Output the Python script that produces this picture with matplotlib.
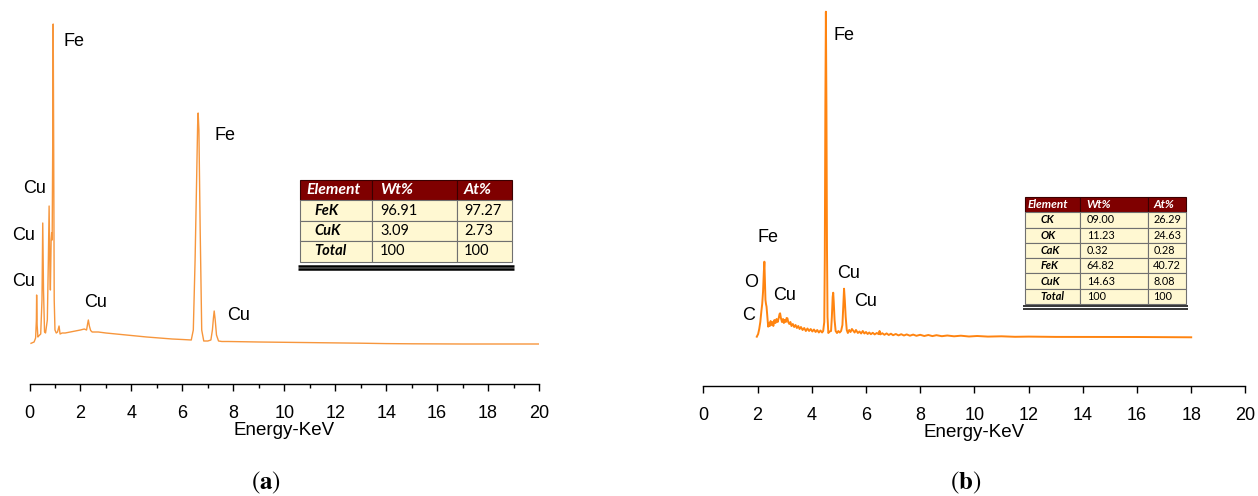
import matplotlib
matplotlib.use("Agg")
import matplotlib.pyplot as plt

W, H = 1258, 496

# ---------------- data ----------------
# panel (a): (energy keV, intensity a.u.)
spectrum_a = [
    (0.06, 7), (0.18, 20), (0.24, 60), (0.27, 240), (0.28, 490), (0.30, 190), (0.33, 70), (0.36, 80),
    (0.44, 100), (0.49, 440), (0.52, 1210), (0.55, 540), (0.59, 120), (0.63, 110), (0.70, 240),
    (0.74, 840), (0.77, 1380), (0.80, 740), (0.82, 540), (0.85, 1040), (0.87, 1110), (0.89, 1040),
    (0.91, 1940), (0.93, 3200), (0.95, 1940), (0.97, 440), (1.00, 140), (1.05, 110), (1.10, 120),
    (1.16, 180), (1.20, 100), (1.28, 110), (1.40, 110), (1.60, 120), (1.80, 130), (2.00, 140),
    (2.15, 150), (2.24, 140), (2.28, 200), (2.31, 240), (2.35, 180), (2.40, 135), (2.46, 120),
    (2.70, 120), (3.00, 110), (3.40, 100), (3.80, 90), (4.20, 80), (4.60, 70), (5.10, 60),
    (5.60, 50), (6.00, 45), (6.35, 40), (6.43, 140), (6.50, 840), (6.56, 1640), (6.60, 2190),
    (6.62, 2310), (6.65, 2140), (6.70, 1140), (6.76, 140), (6.84, 30), (7.00, 30), (7.12, 40),
    (7.18, 140), (7.22, 260), (7.25, 330), (7.29, 240), (7.34, 90), (7.42, 30), (7.55, 25),
    (7.80, 25), (8.30, 23), (9.00, 20), (10.0, 17), (11.0, 14), (12.0, 11), (13.0, 8), (14.0, 4),
    (15.0, 2), (16.0, 1), (17.0, 0), (18.0, 0), (19.0, 0), (20.1, 0),
]

# panel (b)
spectrum_b = [
    (1.97, 3), (2.02, 30), (2.06, 80), (2.10, 150), (2.14, 260), (2.17, 330), (2.20, 450),
    (2.23, 650), (2.25, 753), (2.27, 560), (2.29, 370), (2.31, 330), (2.33, 303), (2.36, 200),
    (2.39, 103), (2.42, 140), (2.45, 110), (2.48, 160), (2.51, 120), (2.55, 150), (2.58, 110),
    (2.62, 170), (2.66, 140), (2.70, 180), (2.74, 150), (2.78, 190), (2.81, 230), (2.83, 237),
    (2.86, 190), (2.90, 150), (2.94, 180), (2.97, 140), (3.00, 170), (3.04, 150), (3.07, 190),
    (3.10, 187), (3.13, 150), (3.17, 130), (3.21, 150), (3.25, 110), (3.30, 130), (3.35, 100),
    (3.40, 120), (3.45, 90), (3.50, 110), (3.55, 80), (3.60, 100), (3.66, 70), (3.72, 90),
    (3.78, 60), (3.84, 85), (3.90, 60), (3.96, 80), (4.02, 55), (4.08, 75), (4.14, 50),
    (4.20, 70), (4.26, 45), (4.32, 65), (4.38, 45), (4.42, 60), (4.46, 150), (4.48, 800),
    (4.50, 2300), (4.52, 3253), (4.54, 2300), (4.56, 900), (4.58, 200), (4.61, 40), (4.66, 55),
    (4.71, 60), (4.74, 200), (4.77, 400), (4.79, 443), (4.81, 350), (4.84, 170), (4.88, 60),
    (4.93, 40), (4.98, 60), (5.03, 45), (5.08, 60), (5.13, 120), (5.16, 300), (5.19, 483),
    (5.22, 360), (5.25, 200), (5.29, 70), (5.33, 40), (5.38, 70), (5.43, 50), (5.48, 80),
    (5.53, 63), (5.58, 45), (5.63, 70), (5.70, 40), (5.76, 55), (5.82, 35), (5.88, 60),
    (5.94, 35), (6.00, 50), (6.06, 30), (6.12, 45), (6.18, 28), (6.25, 42), (6.32, 26),
    (6.40, 40), (6.47, 28), (6.50, 60), (6.53, 26), (6.60, 38), (6.68, 22), (6.76, 36),
    (6.84, 20), (6.92, 33), (7.00, 18), (7.10, 30), (7.20, 16), (7.30, 28), (7.40, 15),
    (7.50, 26), (7.62, 13), (7.74, 24), (7.86, 12), (8.00, 22), (8.15, 10), (8.30, 20),
    (8.45, 9), (8.60, 18), (8.80, 8), (9.00, 15), (9.25, 7), (9.50, 13), (9.80, 5),
    (10.1, 10), (10.5, 4), (11.0, 7), (11.5, 2), (12.0, 4), (13.0, 1), (14.0, 1),
    (15.0, 0), (16.0, 0), (17.0, -2), (18.0, -3),
]

# peak labels: (text, energy, intensity)
labels_a = [("Fe", 1.76, 3023), ("Fe", 7.68, 2090), ("Cu", 0.19, 1557), ("Cu", -0.24, 1090),
            ("Cu", -0.24, 630), ("Cu", 2.60, 413), ("Cu", 8.19, 290)]
labels_b = [("Fe", 5.19, 3010), ("Fe", 2.37, 997), ("O", 1.75, 543), ("C", 1.66, 220),
            ("Cu", 2.99, 420), ("Cu", 5.35, 637), ("Cu", 5.99, 353)]

# composition tables
table_cols = ["Element", "Wt%", "At%"]
elements_a = ["FeK", "CuK", "Total"]
wt_a = ["96.91", "3.09", "100"]
at_a = ["97.27", "2.73", "100"]
elements_b = ["CK", "OK", "CaK", "FeK", "CuK", "Total"]
wt_b = ["09.00", "11.23", "0.32", "64.82", "14.63", "100"]
at_b = ["26.29", "24.63", "0.28", "40.72", "8.08", "100"]

xticks_major = list(range(0, 21, 2))
xticks_minor_a = list(range(1, 20, 2))

# ---------------- figure ----------------
plt.rcParams["font.family"] = ["Liberation Sans", "DejaVu Sans"]
plt.rcParams["mathtext.fontset"] = "stix"
fig = plt.figure(figsize=(W / 100, H / 100), dpi=100)


def px_axes(left, right, top, bottom):
    return fig.add_axes([left / W, (H - bottom) / H, (right - left) / W, (bottom - top) / H])


def style_axis(ax, minor):
    for s in ("left", "right", "top"):
        ax.spines[s].set_visible(False)
    ax.spines["bottom"].set_linewidth(1.0)
    ax.set_yticks([])
    ax.set_xlim(0, 20)
    ax.set_xticks(xticks_major)
    if minor:
        ax.set_xticks(minor, minor=True)
    ax.tick_params(axis="x", which="major", direction="out", length=5, width=1, pad=10, labelsize=13)
    ax.tick_params(axis="x", which="minor", direction="out", length=3, width=1)
    ax.set_xlabel("Energy-KeV", fontsize=13.5, labelpad=0)
    ax.patch.set_alpha(0)


ax_a = px_axes(29.5, 539.0, 10, 384)
ax_a.set_ylim(-400, 3340)
style_axis(ax_a, xticks_minor_a)
ea, ia = zip(*spectrum_a)
ax_a.plot(ea, ia, color="#F7963C", lw=1.0, solid_joinstyle="round")
for t, x, y in labels_a:
    ax_a.text(x, y, t, ha="center", va="center", fontsize=13, clip_on=False)

ax_b = px_axes(703.4, 1245.4, 10, 386)
ax_b.set_ylim(-490, 3270)
style_axis(ax_b, None)
eb, ib = zip(*spectrum_b)
ax_b.plot(eb, ib, color="#FF8410", lw=1.4, solid_joinstyle="round")
for t, x, y in labels_b:
    ax_b.text(x, y, t, ha="center", va="center", fontsize=13, clip_on=False)

# overlay in pixel coordinates for tables & captions
ov = fig.add_axes([0, 0, 1, 1])
ov.set_xlim(0, W)
ov.set_ylim(H, 0)
ov.axis("off")
ov.patch.set_alpha(0)


def draw_table(elements, wt, at, x0, x1, y0, y1, col_px, fs, pads, lw_double, gap):
    cells = [[e, w, a] for e, w, a in zip(elements, wt, at)]
    widths = [c / (x1 - x0) for c in col_px]
    tb = ov.table(cellText=cells, colLabels=table_cols, colWidths=widths, cellLoc="left",
                  colLoc="left", bbox=[x0 / W, (H - y1) / H, (x1 - x0) / W, (y1 - y0) / H])
    tb.auto_set_font_size(False)
    for (r, c), cell in tb.get_celld().items():
        cell.set_linewidth(0.8)
        txt = cell.get_text()
        txt.set_fontsize(fs)
        txt.set_fontfamily(["Lato", "DejaVu Sans"])
        if r == 0:
            cell.set_facecolor("#7F0000")
            cell.set_edgecolor("#3A0000")
            txt.set_color("white")
            txt.set_fontweight("bold")
            txt.set_fontstyle("italic")
            txt.set_fontsize(fs * 1.08)
            cell.PAD = pads[0][c]
        else:
            cell.set_facecolor("#FFF8D2")
            cell.set_edgecolor("#707070")
            if c == 0:
                txt.set_fontweight("bold")
                txt.set_fontstyle("italic")
            cell.PAD = pads[1][c]
    ov.plot([x0 - 2, x1 + 2], [y1 + gap[0], y1 + gap[0]], color="black", lw=lw_double, solid_capstyle="butt")
    ov.plot([x0 - 2, x1 + 2], [y1 + gap[1], y1 + gap[1]], color="black", lw=lw_double, solid_capstyle="butt")


draw_table(elements_a, wt_a, at_a, 300, 511.7, 180, 261.7, [71.7, 85.0, 55.0], 10.5,
           [[0.09, 0.1, 0.13], [0.2, 0.1, 0.13]], 1.8, (4.2, 7.6))
draw_table(elements_b, wt_b, at_b, 1025, 1185.7, 197, 304, [55.0, 68.3, 37.4], 7.8,
           [[0.04, 0.1, 0.13], [0.28, 0.1, 0.13]], 1.1, (2.0, 4.5))

ov.text(266, 483, r"$(\mathbf{a})$", ha="center", va="center", fontsize=18)
ov.text(966, 483, r"$(\mathbf{b})$", ha="center", va="center", fontsize=18)

fig.savefig("out.png", dpi=100)
